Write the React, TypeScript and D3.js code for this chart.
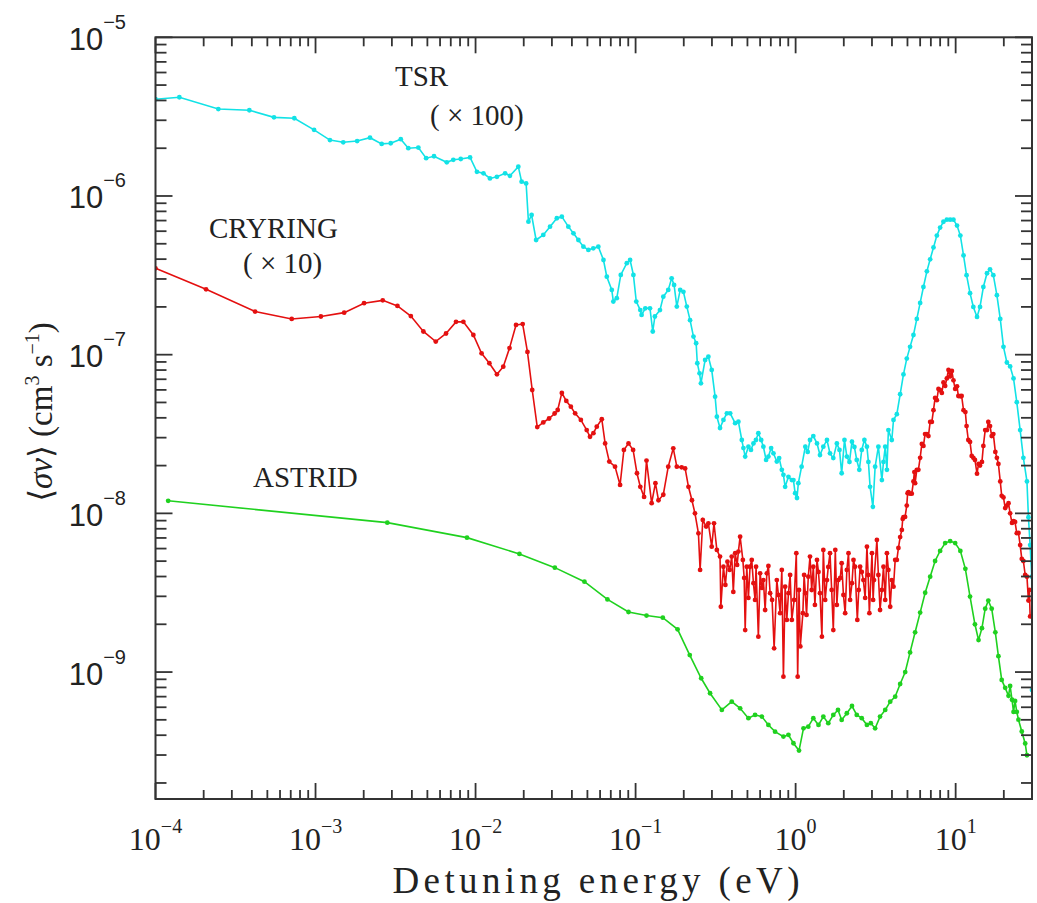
import React from "react";
import * as d3 from "d3";

const W = 1037;
const H = 903;
const PL = 155.5, PR = 1032, PT = 37.3, PB = 799;

const xDomain: [number, number] = [1e-4, 30];
const yDomain: [number, number] = [1.585e-10, 1e-5];

const xMajorTicks = [1e-4, 1e-3, 1e-2, 1e-1, 1, 10];
const xTickExponents = ["−4", "−3", "−2", "−1", "0", "1"];
const yMajorTicks = [1e-9, 1e-8, 1e-7, 1e-6, 1e-5];
const yTickExponents = ["−9", "−8", "−7", "−6", "−5"];

// TSR (x100): [energy eV, rate cm^3 s^-1]
const tsrData: [number, number][] = [
  [1.00e-4, 4.07e-6], [1.41e-4, 4.19e-6], [2.47e-4, 3.53e-6], [3.86e-4, 3.47e-6], [5.50e-4, 3.13e-6],
  [7.37e-4, 3.09e-6], [9.79e-4, 2.61e-6], [1.23e-3, 2.25e-6], [1.49e-3, 2.18e-6], [1.82e-3, 2.22e-6],
  [2.19e-3, 2.33e-6], [2.59e-3, 2.13e-6], [2.95e-3, 2.15e-6], [3.41e-3, 2.28e-6], [3.80e-3, 2.00e-6],
  [4.39e-3, 2.02e-6], [4.91e-3, 1.73e-6], [5.50e-3, 1.78e-6], [6.61e-3, 1.63e-6], [7.26e-3, 1.69e-6],
  [8.08e-3, 1.71e-6], [9.24e-3, 1.75e-6], [1.02e-2, 1.42e-6], [1.12e-2, 1.39e-6], [1.23e-2, 1.29e-6],
  [1.36e-2, 1.32e-6], [1.53e-2, 1.39e-6], [1.64e-2, 1.34e-6], [1.85e-2, 1.53e-6], [1.94e-2, 1.23e-6],
  [2.07e-2, 1.20e-6], [2.14e-2, 6.89e-7], [2.24e-2, 7.59e-7], [2.39e-2, 5.28e-7], [2.65e-2, 5.68e-7],
  [2.92e-2, 6.41e-7], [3.22e-2, 7.24e-7], [3.46e-2, 7.41e-7], [3.80e-2, 6.41e-7], [4.09e-2, 5.82e-7],
  [4.39e-2, 5.28e-7], [4.72e-2, 4.79e-7], [5.07e-2, 4.57e-7], [5.44e-2, 4.68e-7], [5.85e-2, 4.79e-7],
  [6.30e-2, 3.95e-7], [6.61e-2, 3.10e-7], [7.10e-2, 2.56e-7], [7.26e-2, 2.16e-7], [7.63e-2, 2.27e-7],
  [8.08e-2, 3.18e-7], [8.81e-2, 3.77e-7], [9.24e-2, 3.95e-7], [9.69e-2, 3.18e-7], [1.01e-1, 2.16e-7],
  [1.07e-1, 1.91e-7], [1.09e-1, 1.78e-7], [1.15e-1, 1.96e-7], [1.23e-1, 1.96e-7], [1.28e-1, 1.40e-7],
  [1.32e-1, 1.74e-7], [1.42e-1, 1.91e-7], [1.49e-1, 2.32e-7], [1.60e-1, 2.56e-7], [1.68e-1, 3.03e-7],
  [1.74e-1, 2.75e-7], [1.81e-1, 2.01e-7], [1.90e-1, 2.56e-7], [1.99e-1, 2.49e-7], [2.09e-1, 2.01e-7],
  [2.19e-1, 1.65e-7], [2.30e-1, 1.30e-7], [2.39e-1, 1.18e-7], [2.43e-1, 8.83e-8], [2.51e-1, 7.63e-8],
  [2.56e-1, 6.60e-8], [2.72e-1, 9.26e-8], [2.85e-1, 9.71e-8], [2.99e-1, 8.01e-8], [3.14e-1, 5.44e-8],
  [3.22e-1, 4.07e-8], [3.37e-1, 3.45e-8], [3.54e-1, 3.88e-8], [3.72e-1, 4.27e-8], [3.90e-1, 4.27e-8],
  [4.19e-1, 3.70e-8], [4.39e-1, 3.78e-8], [4.61e-1, 2.90e-8], [4.72e-1, 2.58e-8], [4.84e-1, 2.28e-8],
  [5.07e-1, 2.63e-8], [5.26e-1, 2.51e-8], [5.45e-1, 2.76e-8], [5.65e-1, 2.90e-8], [5.85e-1, 3.20e-8],
  [6.09e-1, 2.90e-8], [6.29e-1, 2.63e-8], [6.54e-1, 2.17e-8], [6.76e-1, 2.28e-8], [7.03e-1, 2.58e-8],
  [7.27e-1, 2.39e-8], [7.63e-1, 2.12e-8], [7.89e-1, 2.23e-8], [8.20e-1, 1.88e-8], [8.39e-1, 1.75e-8],
  [8.60e-1, 1.47e-8], [9.02e-1, 1.70e-8], [9.47e-1, 1.62e-8], [9.69e-1, 1.62e-8], [9.93e-1, 1.34e-8],
  [1.02, 1.25e-8], [1.04, 1.55e-8], [1.09, 1.97e-8], [1.15, 2.63e-8], [1.19, 2.44e-8],
  [1.23, 2.90e-8], [1.29, 3.07e-8], [1.36, 2.76e-8], [1.42, 2.33e-8], [1.49, 2.63e-8],
  [1.57, 2.90e-8], [1.64, 2.39e-8], [1.72, 2.23e-8], [1.81, 2.76e-8], [1.88, 2.51e-8],
  [1.94, 1.79e-8], [2.02, 2.90e-8], [2.09, 2.28e-8], [2.17, 2.11e-8], [2.25, 2.83e-8],
  [2.33, 2.62e-8], [2.41, 2.17e-8], [2.50, 1.88e-8], [2.59, 2.51e-8], [2.69, 2.90e-8],
  [2.79, 2.63e-8], [2.85, 2.11e-8], [2.92, 1.47e-8], [3.04, 1.10e-8], [3.14, 1.97e-8],
  [3.29, 2.63e-8], [3.46, 1.62e-8], [3.54, 2.11e-8], [3.63, 2.63e-8], [3.72, 1.88e-8],
  [3.80, 3.35e-8], [3.99, 2.90e-8], [4.09, 3.88e-8], [4.29, 4.22e-8], [4.50, 5.63e-8],
  [4.72, 7.51e-8], [4.95, 9.45e-8], [5.19, 1.12e-7], [5.45, 1.33e-7], [5.72, 1.68e-7],
  [6.00, 2.12e-7], [6.29, 2.67e-7], [6.61, 3.35e-7], [6.93, 3.99e-7], [7.27, 4.74e-7],
  [7.63, 5.63e-7], [8.00, 6.32e-7], [8.39, 6.88e-7], [8.81, 7.09e-7], [9.24, 7.09e-7],
  [9.69, 7.09e-7], [10.2, 6.51e-7], [10.7, 5.63e-7], [11.2, 4.22e-7], [11.7, 3.17e-7],
  [12.3, 2.44e-7], [12.9, 2.00e-7], [13.6, 1.73e-7], [14.2, 2.00e-7], [14.9, 2.67e-7],
  [15.7, 3.26e-7], [16.4, 3.45e-7], [17.2, 3.17e-7], [18.1, 2.37e-7], [19.0, 1.68e-7],
  [19.9, 1.12e-7], [20.9, 8.93e-8], [21.9, 8.43e-8], [23.0, 7.09e-8], [24.1, 5.02e-8],
  [25.3, 3.35e-8], [26.5, 2.24e-8], [27.9, 1.59e-8], [28.5, 9.45e-9], [29.2, 6.31e-9],
  [29.9, 3.99e-9], [30.0, 7.7e-10],
];

// CRYRING (x10), main trace
const cryringData: [number, number][] = [
  [1.00e-4, 3.50e-7], [2.07e-4, 2.58e-7], [4.19e-4, 1.87e-7], [7.10e-4, 1.68e-7], [1.08e-3, 1.74e-7],
  [1.51e-3, 1.84e-7], [2.01e-3, 2.11e-7], [2.63e-3, 2.20e-7], [3.25e-3, 2.03e-7], [3.94e-3, 1.75e-7],
  [4.72e-3, 1.40e-7], [5.64e-3, 1.21e-7], [6.54e-3, 1.36e-7], [7.55e-3, 1.61e-7], [8.39e-3, 1.61e-7],
  [9.69e-3, 1.33e-7], [1.09e-2, 1.02e-7], [1.22e-2, 8.83e-8], [1.36e-2, 7.52e-8], [1.49e-2, 8.40e-8],
  [1.63e-2, 1.10e-7], [1.79e-2, 1.54e-7], [1.97e-2, 1.56e-7], [2.11e-2, 1.04e-7], [2.26e-2, 5.99e-8],
  [2.43e-2, 3.50e-8], [2.65e-2, 3.74e-8], [2.88e-2, 3.96e-8], [3.12e-2, 4.26e-8], [3.26e-2, 4.48e-8],
  [3.46e-2, 5.74e-8], [3.69e-2, 5.11e-8], [3.94e-2, 4.70e-8], [4.19e-2, 4.27e-8], [4.55e-2, 3.88e-8],
  [4.95e-2, 3.35e-8], [5.19e-2, 3.04e-8], [5.45e-2, 3.20e-8], [5.72e-2, 3.52e-8], [6.15e-2, 3.92e-8],
  [6.45e-2, 2.76e-8], [6.85e-2, 2.12e-8], [7.44e-2, 1.97e-8], [8.00e-2, 1.51e-8], [8.45e-2, 2.51e-8],
  [9.03e-2, 2.76e-8], [9.65e-2, 2.51e-8], [1.02e-1, 1.79e-8], [1.07e-1, 1.47e-8], [1.13e-1, 1.27e-8],
  [1.17e-1, 2.15e-8], [1.26e-1, 1.16e-8], [1.33e-1, 1.55e-8], [1.39e-1, 1.21e-8], [1.49e-1, 1.31e-8],
  [1.60e-1, 1.97e-8], [1.72e-1, 2.57e-8], [1.81e-1, 1.97e-8], [1.94e-1, 1.95e-8], [2.04e-1, 1.92e-8],
  [2.14e-1, 1.47e-8], [2.25e-1, 1.21e-8], [2.35e-1, 1.00e-8], [2.47e-1, 7.49e-9], [2.53e-1, 4.40e-9],
  [2.63e-1, 9.09e-9], [2.76e-1, 8.25e-9], [2.85e-1, 8.66e-9], [2.99e-1, 6.17e-9], [3.09e-1, 8.66e-9],
  [3.22e-1, 5.88e-9], [3.37e-1, 5.34e-9], [3.41e-1, 2.58e-9], [3.54e-1, 4.61e-9], [3.75e-1, 4.96e-9],
  [3.99e-1, 5.34e-9], [4.19e-1, 5.61e-9], [4.39e-1, 5.74e-9], [4.50e-1, 7.13e-9], [4.68e-1, 5.09e-9],
  [4.84e-1, 1.84e-9], [4.95e-1, 4.61e-9], [5.19e-1, 4.61e-9], [5.45e-1, 3.63e-9], [5.66e-1, 4.61e-9],
  [5.85e-1, 1.67e-9], [6.00e-1, 4.19e-9], [6.29e-1, 3.80e-9], [6.61e-1, 4.19e-9], [6.93e-1, 3.14e-9],
  [7.34e-1, 1.41e-9], [7.63e-1, 3.80e-9], [8.00e-1, 2.35e-9], [8.39e-1, 9.35e-10], [8.60e-1, 3.45e-9],
  [9.02e-1, 3.14e-9], [9.47e-1, 2.13e-9], [1.01, 5.61e-9], [1.03, 9.35e-10], [1.07, 1.45e-9],
  [1.11, 2.35e-9], [1.15, 3.14e-9], [1.20, 3.99e-9], [1.23, 5.34e-9], [1.29, 4.61e-9],
  [1.36, 5.09e-9], [1.42, 3.14e-9], [1.46, 1.67e-9], [1.49, 5.88e-9], [1.57, 3.80e-9],
  [1.64, 5.61e-9], [1.72, 1.84e-9], [1.77, 5.88e-9], [1.85, 3.80e-9], [1.94, 4.85e-9],
  [2.04, 2.35e-9], [2.14, 5.61e-9], [2.25, 3.63e-9], [2.35, 4.61e-9], [2.43, 2.13e-9],
  [2.53, 4.61e-9], [2.65, 3.80e-9], [2.79, 6.17e-9], [2.89, 2.35e-9], [3.00, 5.61e-9],
  [3.09, 3.80e-9], [3.22, 6.80e-9], [3.37, 2.46e-9], [3.54, 4.61e-9], [3.72, 5.61e-9],
  [3.90, 2.58e-9], [4.09, 3.45e-9], [4.29, 5.09e-9], [4.50, 7.09e-9], [4.61, 7.86e-9],
  [4.72, 9.45e-9], [4.95, 1.12e-8], [5.07, 1.36e-8], [5.19, 1.33e-8], [5.45, 1.59e-8],
  [5.58, 1.55e-8], [5.72, 1.88e-8], [6.00, 2.24e-8], [6.15, 2.74e-8], [6.29, 2.66e-8],
  [6.61, 3.16e-8], [6.76, 3.07e-8], [6.93, 3.77e-8], [7.27, 4.47e-8], [7.44, 5.34e-8],
  [7.63, 5.17e-8], [8.00, 5.97e-8], [8.20, 5.74e-8], [8.39, 6.69e-8], [8.81, 7.09e-8],
  [9.02, 8.01e-8], [9.24, 7.30e-8], [9.69, 6.89e-8], [9.93, 6.08e-8], [10.2, 6.32e-8],
  [10.7, 5.47e-8], [10.9, 5.49e-8], [11.2, 4.47e-8], [11.7, 3.55e-8], [12.0, 2.90e-8],
  [12.3, 2.82e-8], [12.9, 2.24e-8], [13.2, 2.17e-8], [13.6, 1.78e-8], [14.2, 2.00e-8],
  [14.9, 2.66e-8], [15.3, 3.35e-8], [15.7, 3.35e-8], [16.4, 3.55e-8], [17.2, 3.16e-8],
  [17.7, 2.44e-8], [18.1, 2.24e-8], [19.0, 1.59e-8], [19.9, 1.26e-8], [20.4, 1.08e-8],
  [20.9, 1.12e-8], [21.9, 1.00e-8], [23.0, 8.92e-9], [23.5, 8.83e-9], [24.1, 7.50e-9],
  [25.3, 6.31e-9], [26.5, 5.01e-9], [27.2, 4.09e-9], [27.9, 3.99e-9], [28.5, 2.82e-9],
  [28.9, 3.29e-9], [29.2, 2.24e-9],
];

// CRYRING (x10), additional scattered points in the noisy plateau and the 10 eV peak
const cryringExtra: [number, number][] = [
  [0.364, 3.54e-9], [0.387, 4.40e-9], [0.408, 3.20e-9], [0.431, 4.73e-9], [0.477, 3.92e-9],
  [0.507, 2.93e-9], [0.532, 5.09e-9], [0.558, 2.85e-9], [0.615, 3.39e-9], [0.645, 2.46e-9],
  [0.676, 4.66e-9], [0.713, 2.85e-9], [0.781, 3.06e-9], [0.820, 4.40e-9], [0.881, 2.13e-9],
  [0.924, 4.09e-9], [0.979, 2.85e-9], [1.05, 3.29e-9], [1.13, 4.09e-9], [1.17, 2.29e-9],
  [1.26, 3.29e-9], [1.32, 2.65e-9], [1.39, 4.27e-9], [1.53, 2.85e-9], [1.60, 4.60e-9],
  [1.68, 3.29e-9], [1.81, 2.65e-9], [1.90, 3.92e-9], [1.99, 3.06e-9], [2.09, 4.40e-9],
  [2.19, 2.85e-9], [2.30, 5.09e-9], [2.48, 3.29e-9], [2.59, 4.27e-9], [2.72, 2.93e-9],
  [2.84, 4.09e-9], [3.05, 2.85e-9], [3.29, 4.09e-9], [3.46, 3.29e-9], [3.63, 2.85e-9],
  [3.80, 4.40e-9], [3.99, 3.80e-9], [4.19, 5.09e-9], [4.39, 6.05e-9],
  [4.67, 9.22e-9], [4.83, 9.49e-9], [5.01, 1.34e-8], [5.32, 1.33e-8], [5.52, 1.82e-8],
  [5.85, 1.88e-8], [6.44, 3.16e-8], [7.10, 3.77e-8], [7.81, 6.08e-8], [8.60, 6.35e-8],
  [9.47, 7.89e-8], [10.4, 5.49e-8], [11.5, 4.35e-8], [12.6, 2.30e-8], [13.9, 2.05e-8],
  [14.6, 2.11e-8], [16.0, 3.77e-8], [16.8, 3.07e-8], [18.5, 2.05e-8], [19.4, 1.29e-8],
  [21.4, 1.16e-8], [22.5, 8.70e-9], [24.7, 7.52e-9], [25.9, 5.16e-9],
];

// ASTRID
const astridData: [number, number][] = [
  [1.20e-4, 1.20e-8], [2.81e-3, 8.74e-9], [8.84e-3, 7.03e-9], [1.88e-2, 5.55e-9], [3.13e-2, 4.55e-9],
  [4.79e-2, 3.71e-9], [6.67e-2, 2.87e-9], [9.03e-2, 2.39e-9], [1.17e-1, 2.27e-9], [1.48e-1, 2.20e-9],
  [1.83e-1, 1.86e-9], [2.18e-1, 1.28e-9], [2.57e-1, 9.14e-10], [2.92e-1, 7.35e-10], [3.46e-1, 5.77e-10],
  [3.99e-1, 6.51e-10], [4.50e-1, 5.91e-10], [5.07e-1, 5.12e-10], [5.58e-1, 5.37e-10], [6.15e-1, 5.24e-10],
  [6.76e-1, 4.64e-10], [7.44e-1, 4.21e-10], [8.39e-1, 3.92e-10], [9.02e-1, 4.02e-10], [9.69e-1, 3.56e-10],
  [1.05, 3.20e-10], [1.12, 4.42e-10], [1.20, 4.53e-10], [1.29, 5.12e-10], [1.39, 4.64e-10],
  [1.49, 5.24e-10], [1.60, 4.76e-10], [1.72, 5.37e-10], [1.84, 5.77e-10], [1.94, 4.99e-10],
  [2.09, 5.50e-10], [2.25, 6.11e-10], [2.41, 5.37e-10], [2.59, 5.12e-10], [2.79, 4.64e-10],
  [2.95, 4.76e-10], [3.14, 4.42e-10], [3.37, 5.24e-10], [3.63, 5.77e-10], [3.90, 6.51e-10],
  [4.19, 7.00e-10], [4.50, 8.41e-10], [4.84, 1.00e-9], [5.19, 1.33e-9], [5.58, 1.78e-9],
  [6.00, 2.37e-9], [6.45, 3.16e-9], [6.93, 3.99e-9], [7.44, 5.01e-9], [8.00, 5.80e-9],
  [8.60, 6.50e-9], [9.24, 6.69e-9], [9.93, 6.50e-9], [10.7, 5.80e-9], [11.5, 4.47e-9],
  [12.3, 2.99e-9], [13.2, 2.00e-9], [13.9, 1.59e-9], [14.6, 1.89e-9], [15.3, 2.51e-9],
  [16.0, 2.82e-9], [16.8, 2.51e-9], [17.7, 1.78e-9], [18.5, 1.26e-9], [19.4, 8.92e-10],
  [20.4, 7.95e-10], [21.4, 7.08e-10], [21.9, 8.17e-10], [22.5, 6.69e-10], [23.0, 5.61e-10],
  [23.5, 6.58e-10], [24.1, 5.61e-10], [24.7, 5.01e-10], [25.9, 4.22e-10], [27.2, 3.55e-10],
  [27.9, 2.99e-10],
];

const seriesNames = ["TSR", "CRYRING", "ASTRID"];
const seriesColors = ["#12e2e6", "#e41010", "#1fd11f"];

const x = d3.scaleLog().domain(xDomain).range([PL, PR]);
const y = d3.scaleLog().domain(yDomain).range([PB, PT]);

const isMajor = (v: number) => Math.abs(Math.log10(v) - Math.round(Math.log10(v))) < 1e-6;

export default function App() {
  const line = d3
    .line<[number, number]>()
    .x((d) => x(d[0]))
    .y((d) => y(d[1]));

  const byEnergy = (a: [number, number], b: [number, number]) => a[0] - b[0];
  const allSeries = [
    tsrData.slice().sort(byEnergy),
    cryringData.concat(cryringExtra).sort(byEnergy),
    astridData.slice().sort(byEnergy),
  ];
  const xt = x.ticks().filter((v) => v >= xDomain[0] * 0.999 && v <= xDomain[1] * 1.001);
  const yt = y.ticks().filter((v) => v >= yDomain[0] * 0.999 && v <= yDomain[1] * 1.001);
  const axisColor = "#333";

  return (
    <svg
      width={W}
      height={H}
      viewBox={`0 0 ${W} ${H}`}
      style={{ position: "absolute", left: 0, top: 0, background: "#fff" }}
    >
      <defs>
        <clipPath id="plotClip">
          <rect x={PL} y={PT} width={PR - PL} height={PB - PT} />
        </clipPath>
      </defs>
      <rect x={0} y={0} width={W} height={H} fill="#fff" />

      {/* data */}
      <g clipPath="url(#plotClip)">
        {allSeries.map((data, i) => (
          <g key={seriesNames[i]}>
            <path d={line(data) || ""} fill="none" stroke={seriesColors[i]} strokeWidth={1.6} />
            {data.map((d, j) => (
              <circle key={j} cx={x(d[0])} cy={y(d[1])} r={2.4} fill={seriesColors[i]} />
            ))}
          </g>
        ))}
      </g>

      {/* ticks */}
      <g stroke={axisColor} strokeWidth={1.8}>
        {xt.map((v, i) => {
          const len = isMajor(v) ? 16 : 9;
          const px = x(v);
          return (
            <g key={"xt" + i}>
              <line x1={px} x2={px} y1={PB} y2={PB - len} />
              <line x1={px} x2={px} y1={PT} y2={PT + len} />
            </g>
          );
        })}
        {yt.map((v, i) => {
          const len = isMajor(v) ? 17 : 11;
          const py = y(v);
          return (
            <g key={"yt" + i}>
              <line x1={PL} x2={PL + len} y1={py} y2={py} />
              <line x1={PR} x2={PR - len} y1={py} y2={py} />
            </g>
          );
        })}
      </g>
      <rect x={PL} y={PT} width={PR - PL} height={PB - PT} fill="none" stroke={axisColor} strokeWidth={2} />

      {/* x tick labels */}
      {xMajorTicks.map((v, i) => (
        <text
          key={"xl" + i}
          x={x(v)}
          y={850}
          textAnchor="middle"
          fontFamily="'Liberation Serif', serif"
          fontSize={32}
          fill="#222"
        >
          10
          <tspan dy={-17} fontSize={20}>
            {xTickExponents[i]}
          </tspan>
        </text>
      ))}

      {/* y tick labels */}
      {yMajorTicks.map((v, i) => (
        <text
          key={"yl" + i}
          x={126}
          y={y(v) + 12.5}
          textAnchor="end"
          fontFamily="'Liberation Sans', Arial, sans-serif"
          fontSize={31}
          fill="#222"
        >
          10
          <tspan dy={-21} fontSize={20}>
            {yTickExponents[i]}
          </tspan>
        </text>
      ))}

      {/* axis titles */}
      <text
        x={596}
        y={893}
        textAnchor="middle"
        fontFamily="'Liberation Serif', serif"
        fontSize={37}
        textLength={407}
        lengthAdjust="spacing"
        fill="#222"
      >
        Detuning energy (eV)
      </text>
      <text
        transform="translate(52,412) rotate(-90)"
        textAnchor="middle"
        fontFamily="'Liberation Serif', 'DejaVu Serif', serif"
        fontSize={33}
        fill="#222"
      >
        ⟨<tspan fontStyle="italic">σv</tspan>⟩ (cm
        <tspan dy={-13} fontSize={20}>3</tspan>
        <tspan dy={13}> s</tspan>
        <tspan dy={-13} fontSize={20}>−1</tspan>
        <tspan dy={13}>)</tspan>
      </text>

      {/* series labels */}
      <g fontFamily="'Liberation Serif', serif" fontSize={29} fill="#222">
        <text x={395} y={86}>{seriesNames[0]}</text>
        <text x={430} y={125}>( × 100)</text>
        <text x={209} y={238}>{seriesNames[1]}</text>
        <text x={243} y={273}>( × 10)</text>
        <text x={253} y={487}>{seriesNames[2]}</text>
      </g>
    </svg>
  );
}
